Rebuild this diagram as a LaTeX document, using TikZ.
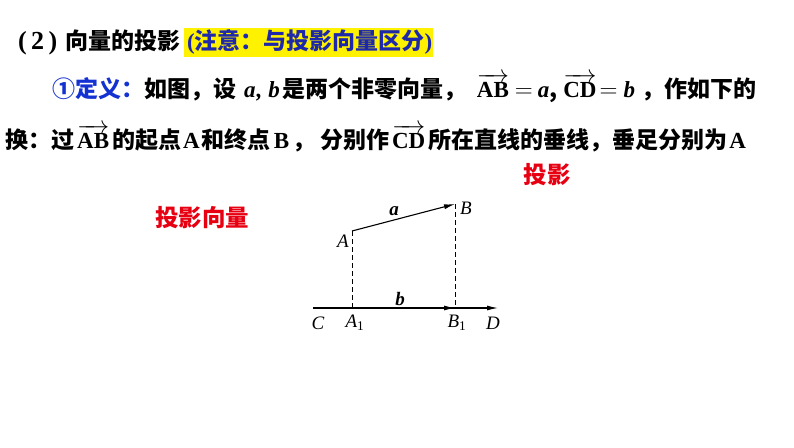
\documentclass[tikz,border=0pt]{standalone}
\usepackage{fontspec}
\usepackage{amsmath,bm}
\newfontfamily\cjk{Noto Sans CJK SC}
\newfontfamily\latf{Liberation Serif}
\usetikzlibrary{arrows.meta}
\definecolor{hiblue}{RGB}{30,40,170}
\definecolor{defblue}{RGB}{20,50,210}
\definecolor{tagred}{RGB}{230,0,18}
\tikzset{
  txt/.style={anchor=west,inner sep=0pt,font=\cjk\bfseries\fontsize{23}{26}\selectfont},
  tag/.style={text=tagred,font=\cjk\bfseries\fontsize{23.5}{27}\selectfont},
  vec/.style={line width=1.1pt,-{Latex[length=11pt,width=5pt]}},
  perp/.style={line width=1pt,dash pattern=on 5pt off 3pt},
  lab/.style={font=\latf\itshape\fontsize{19}{22}\selectfont}
}
\newcommand{\lat}[1]{{\latf\bfseries #1}}
\newcommand{\arr}[1]{$\overrightarrow{\text{\latf\bfseries #1}}$}
\begin{document}
\begin{tikzpicture}[x=1pt,y=-1pt]
	\useasboundingbox (0,0) rectangle (794,447);
	\begin{scope}
		\clip (0,0) rectangle (756,447);
		\node[txt] (title) at (18,42) {\lat{\fontsize{26}{28}\selectfont(\,2\,)}\hspace{8pt}向量的投影};
		\node[txt,fill=yellow,text=hiblue,inner sep=0pt,minimum height=29pt,minimum width=249pt] (note) at (184,42) {\hspace{2pt}\lat{(}注意：与投影向量区分\lat{)}};
		\node[txt] (def) at (52,88) {{\color{defblue}①定义：}如图，设\hspace{8pt}{\latf\itshape a\hspace{1pt},\hspace{6pt}b}\hspace{3pt}是两个非零向量，\hspace{10pt}\arr{AB}\hspace{6pt}$=$\hspace{5pt}\lat{\itshape a},\hspace{6pt}\arr{CD}\hspace{3pt}$=$\hspace{6pt}\lat{\itshape b}\hspace{6pt}，作如下的};
		\node[txt] (defb) at (5,138) {换：过\hspace{3pt}\arr{AB}\hspace{3pt}的起点\hspace{2pt}\lat{A}\hspace{2pt}和终点\hspace{3pt}\lat{B}\hspace{3pt}，\hspace{5pt}分别作\hspace{3pt}\arr{CD}\hspace{3pt}所在直线的垂线，垂足分别为\hspace{2pt}\lat{A}};
	\end{scope}
	\node[tag] (proj) at (547,175) {投影};
	\node[tag] (projvec) at (202,218) {投影向量};
	\coordinate (A) at (352,231);
	\coordinate (B) at (455,204);
	\coordinate (C) at (313,308);
	\coordinate (D) at (498,308);
	\coordinate (A1) at (352,308);
	\coordinate (B1) at (455,308);
	\draw[vec] (A) -- (B);
	\draw[vec] (C) -- (D);
	\draw[vec] (A1) -- (B1);
	\draw[perp] (A) -- (A1);
	\draw[perp] (B) -- (B1);
	\foreach \Pt/\Name/\Lab in {(343,241)/lA/A,(466,208)/lB/B,(318,323)/lC/C,(355,323)/lAa/A\textsubscript{\upshape 1},(457,323)/lBb/B\textsubscript{\upshape 1},(493,323)/lD/D}
		\node[lab] (\Name) at \Pt {\Lab};
	\node[lab] (la) at (394,211) {\bfseries a};
	\node[lab] (lb) at (400,299) {\bfseries b};
\end{tikzpicture}
\end{document}
